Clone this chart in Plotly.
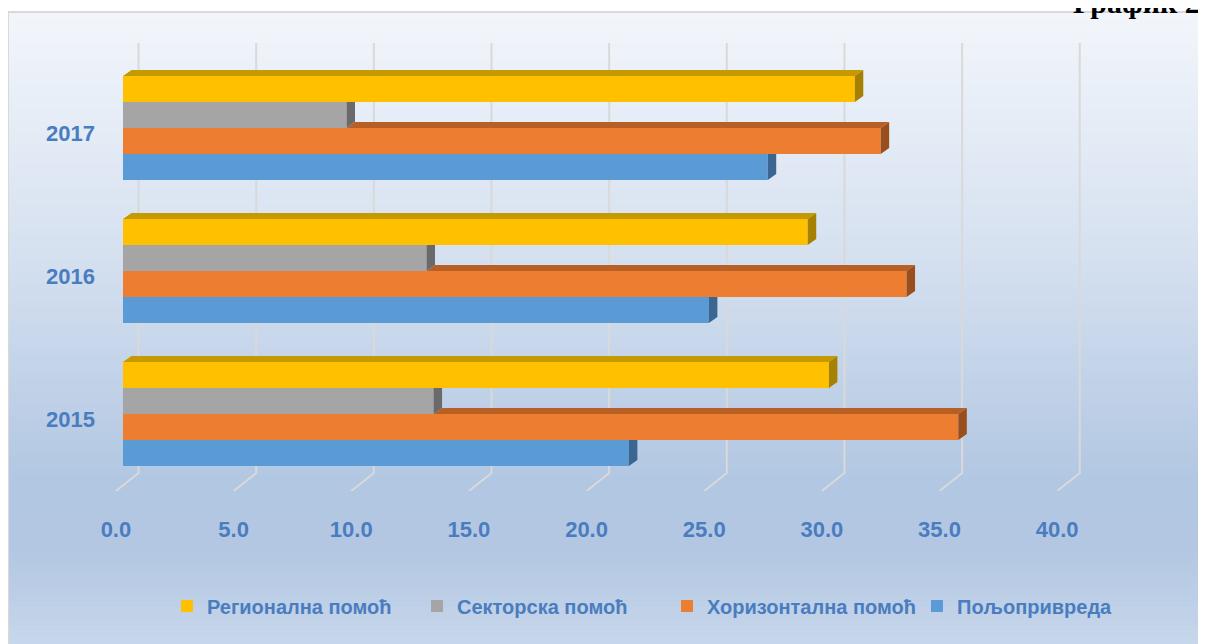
import plotly.graph_objects as go

# ---------------- data ----------------
years = ["2015", "2016", "2017"]
series_names = ["Пољопривреда", "Хоризонтална помоћ", "Секторска помоћ", "Регионална помоћ"]
poljoprivreda = [21.5, 24.9, 27.4]
horizontalna = [35.5, 33.3, 32.2]
sektorska = [13.2, 12.9, 9.5]
regionalna = [30.0, 29.1, 31.1]
x_tick_values = [0, 5, 10, 15, 20, 25, 30, 35, 40]
x_tick_labels = ["0.0", "5.0", "10.0", "15.0", "20.0", "25.0", "30.0", "35.0", "40.0"]
title_text = "График 2"

# ---------------- styles ----------------
front_colors = ["#5b9bd5", "#ed7d31", "#a5a5a5", "#ffc000"]
top_colors = ["#44739f", "#b85f25", "#7c7c7c", "#c49a00"]
side_colors = ["#3a6691", "#9a4d1d", "#6a6a6a", "#a68000"]
text_color = "#4a7dbf"
grid_color = "#d9d9d9"

OFF = 8  # page body margin of the html page
W, H = 1206, 644
# plot area in screen (reference) pixels
PL, PR, PT, PB = 100, 1100, 40, 491
ML, MT = PL - OFF, PT - OFF
MR = W - (PR - OFF)
MB = H - (PB - OFF)
PW, PH = PR - PL, PB - PT

X_RANGE = [-0.977, 41.52]
Y_RANGE = [-0.538, 2.615]
BAR_W = 0.182
offsets = [-0.364, -0.182, 0.0, 0.182]
DX = 0.36     # depth in x units
DY = 0.042    # depth in y units
BACK_SHIFT = 0.66
FRONT_SHIFT = -0.3
FLOOR_BACK_Y = -0.413
GRID_TOP_Y = 2.594


def px_to_paper_x(px):
    return (px - PL) / PW


def px_to_paper_y(py):
    return (PB - py) / PH


series = [poljoprivreda, horizontalna, sektorska, regionalna]
ypos = list(range(len(years)))

fig = go.Figure()

# front faces (real bars)
for i, (name, vals) in enumerate(zip(series_names, series)):
    fig.add_trace(go.Bar(
        x=vals, y=ypos, orientation="h", name=name,
        width=BAR_W, offset=offsets[i],
        marker=dict(color=front_colors[i], line=dict(width=0)),
        hoverinfo="x+name",
    ))

# 3D faces (top & side) derived from data
for i, vals in enumerate(series):
    top_xs, top_ys, side_xs, side_ys = [], [], [], []
    for g, yc in enumerate(ypos):
        v = vals[g]
        bot = yc + offsets[i]
        top = bot + BAR_W
        upper = None if i == len(series) - 1 else series[i + 1][g]
        if upper is None or upper < v:
            start = 0.0 if upper is None else upper
            top_xs += [start, start + DX, v + DX, v, start, None]
            top_ys += [top, top + DY, top + DY, top, top, None]
        if upper is None or upper < v + DX:
            side_xs += [v, v + DX, v + DX, v, v, None]
            side_ys += [bot, bot + DY, top + DY, top, bot, None]
        else:
            side_xs += [v, v + DX, v + DX, v, v, None]
            side_ys += [bot, bot + DY, top, top, bot, None]
    if top_xs:
        fig.add_trace(go.Scatter(
            x=top_xs, y=top_ys, mode="lines", fill="toself",
            fillcolor=top_colors[i], line=dict(width=0, color=top_colors[i]),
            showlegend=False, hoverinfo="skip"))
    fig.add_trace(go.Scatter(
        x=side_xs, y=side_ys, mode="lines", fill="toself",
        fillcolor=side_colors[i], line=dict(width=0, color=side_colors[i]),
        showlegend=False, hoverinfo="skip"))

shapes = []
# background gradient strips
stops = [(13, (242, 246, 251)), (250, (214, 225, 240)), (480, (178, 199, 226)),
         (550, (179, 199, 226)), (644, (199, 215, 235))]


def color_at(py):
    for (y0, c0), (y1, c1) in zip(stops[:-1], stops[1:]):
        if y0 <= py <= y1:
            t = (py - y0) / (y1 - y0)
            return tuple(int(round(a + (b - a) * t)) for a, b in zip(c0, c1))
    return stops[-1][1]


step = 6
py = 13
while py < H + 10:
    c = color_at(py + step / 2)
    shapes.append(dict(
        type="rect", xref="paper", yref="paper", layer="below",
        x0=px_to_paper_x(9), x1=px_to_paper_x(W + 20),
        y0=px_to_paper_y(py), y1=px_to_paper_y(py + step + 1),
        fillcolor="rgb(%d,%d,%d)" % c, line=dict(width=0)))
    py += step

# frame border
shapes.append(dict(
    type="rect", xref="paper", yref="paper", layer="below",
    x0=px_to_paper_x(8), x1=px_to_paper_x(W + 30),
    y0=px_to_paper_y(H + 30), y1=px_to_paper_y(12),
    fillcolor="rgba(0,0,0,0)", line=dict(width=2, color="#d9d9d9")))

# 3D gridlines: back wall vertical + floor diagonal
for v in x_tick_values:
    shapes.append(dict(
        type="path", xref="x", yref="y", layer="below",
        path="M %f,%f L %f,%f L %f,%f" % (
            v + BACK_SHIFT, GRID_TOP_Y, v + BACK_SHIFT, FLOOR_BACK_Y,
            v + FRONT_SHIFT, Y_RANGE[0]),
        line=dict(color=grid_color, width=2)))

fig.update_layout(
    width=W, height=H, autosize=False,
    margin=dict(l=ML, r=MR, t=MT, b=MB, pad=0),
    paper_bgcolor="white", plot_bgcolor="rgba(0,0,0,0)",
    barmode="overlay",
    shapes=shapes,
    font=dict(family="Liberation Sans, Arial, sans-serif", color=text_color),
    xaxis=dict(
        range=X_RANGE, showgrid=False, zeroline=False, showline=False,
        tickmode="array", tickvals=[v + FRONT_SHIFT for v in x_tick_values],
        ticktext=x_tick_labels, ticks="", ticklabelstandoff=23,
        tickfont=dict(size=22, weight=700, color=text_color),
    ),
    yaxis=dict(
        range=Y_RANGE, showgrid=False, zeroline=False, showline=False,
        tickmode="array", tickvals=ypos, ticktext=years, ticks="",
        ticklabelshift=5, ticklabelstandoff=4,
        tickfont=dict(size=22, weight=700, color=text_color),
    ),
    legend=dict(
        orientation="h", x=px_to_paper_x(667), xanchor="center",
        y=px_to_paper_y(606), yanchor="middle",
        traceorder="reversed", bgcolor="rgba(0,0,0,0)",
        entrywidth=205, entrywidthmode="pixels",
        font=dict(size=20, weight=700, color=text_color),
    ),
    annotations=[dict(
        text=title_text, xref="paper", yref="paper",
        x=px_to_paper_x(1071), y=px_to_paper_y(21.5),
        xanchor="left", yanchor="bottom", showarrow=False,
        font=dict(family="Liberation Serif, Times New Roman, serif",
                  size=30, weight=700, color="black"))],
)

fig.write_html("out.html")
